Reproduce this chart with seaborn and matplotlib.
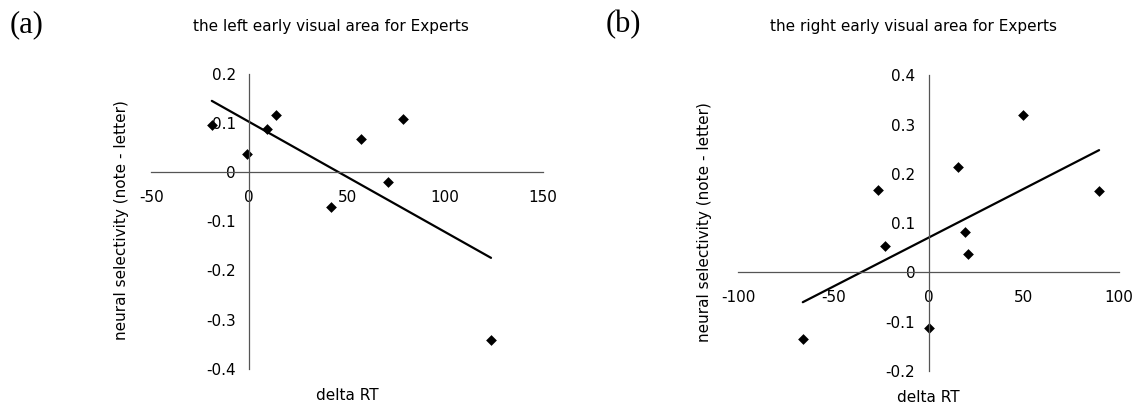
import numpy as np
import pandas as pd
import matplotlib
matplotlib.use("Agg")
import matplotlib.pyplot as plt
import seaborn as sns

# ---- data ----
left_delta_rt = [-19.1, -0.9, 9.3, 13.9, 41.8, 57.2, 70.8, 78.6, 123.5]
left_selectivity = [0.096, 0.037, 0.087, 0.115, -0.071, 0.067, -0.020, 0.108, -0.341]

right_delta_rt = [-66.0, -26.7, -23.1, 0.4, 15.5, 18.9, 20.8, 49.8, 89.5]
right_selectivity = [-0.135, 0.168, 0.053, -0.113, 0.213, 0.083, 0.038, 0.319, 0.166]

left_xticks = [-50, 0, 50, 100, 150]
left_xticklabels = ["-50", "0", "50", "100", "150"]
left_yticks = [-0.4, -0.3, -0.2, -0.1, 0.0, 0.1, 0.2]
left_yticklabels = ["-0.4", "-0.3", "-0.2", "-0.1", "0", "0.1", "0.2"]

right_xticks = [-100, -50, 0, 50, 100]
right_xticklabels = ["-100", "-50", "0", "50", "100"]
right_yticks = [-0.2, -0.1, 0.0, 0.1, 0.2, 0.3, 0.4]
right_yticklabels = ["-0.2", "-0.1", "0", "0.1", "0.2", "0.3", "0.4"]

titles = ["the left early visual area for Experts", "the right early visual area for Experts"]
panel_tags = ["(a)", "(b)"]
xlabel = "delta RT"
ylabel = "neural selectivity (note - letter)"

# ---- style ----
sns.set_style("white")
plt.rcParams["font.family"] = ["DejaVu Sans"]
plt.rcParams["text.color"] = "black"

W, H = 1141, 407
fig = plt.figure(figsize=(W / 100, H / 100), dpi=100)

def fx(px):
    return px / W

def fy(py):
    return 1 - py / H

panels = [
    dict(x=left_delta_rt, y=left_selectivity, xlim=(-50, 150), ylim=(-0.4, 0.2),
         xt=left_xticks, xtl=left_xticklabels, yt=left_yticks, ytl=left_yticklabels,
         box=(151.3, 73.7, 542.9, 368.7), title_x=331, tag_x=27, ylab_x=121.8, ylab_y=220,
         xlab_y=395),
    dict(x=right_delta_rt, y=right_selectivity, xlim=(-100, 100), ylim=(-0.2, 0.4),
         xt=right_xticks, xtl=right_xticklabels, yt=right_yticks, ytl=right_yticklabels,
         box=(738.0, 75.3, 1119.1, 371.0), title_x=913, tag_x=623, ylab_x=704.5, ylab_y=222,
         xlab_y=397.5),
]

axis_color = "#555555"
for i, p in enumerate(panels):
    l, t, r, b = p["box"]
    ax = fig.add_axes([fx(l), fy(b), (r - l) / W, (b - t) / H])
    df = pd.DataFrame({"x": p["x"], "y": p["y"]})
    sns.regplot(data=df, x="x", y="y", ax=ax, ci=None, truncate=True, marker="D",
                color="black", scatter_kws={"s": 30, "linewidths": 0, "alpha": 1},
                line_kws={"lw": 1.6, "color": "black"})
    ax.set_xlim(*p["xlim"])
    ax.set_ylim(*p["ylim"])
    ax.set_xlabel("")
    ax.set_ylabel("")
    ax.set_facecolor("none")
    for s in ["top", "right"]:
        ax.spines[s].set_visible(False)
    ax.spines["left"].set_position(("data", 0))
    ax.spines["bottom"].set_position(("data", 0))
    for s in ["left", "bottom"]:
        ax.spines[s].set_color(axis_color)
        ax.spines[s].set_linewidth(0.9)
    ax.set_xticks(p["xt"])
    ax.set_xticklabels(p["xtl"])
    ax.set_yticks(p["yt"])
    ax.set_yticklabels(p["ytl"])
    ax.tick_params(axis="x", direction="out", length=3, width=0.9, color=axis_color,
                   pad=10, labelsize=11, labelcolor="black")
    ax.tick_params(axis="y", direction="out", length=3, width=0.9, color=axis_color,
                   pad=6.5, labelsize=11, labelcolor="black")
    ax.grid(False)

    fig.text(fx(p["title_x"]), fy(27), titles[i], ha="center", va="center", fontsize=11)
    fig.text(fx(p["tag_x"]), fy(25), panel_tags[i], ha="center", va="center",
             fontsize=22, family=["Liberation Serif", "DejaVu Serif"])
    fig.text(fx((l + r) / 2), fy(p["xlab_y"]), xlabel, ha="center", va="center", fontsize=11)
    fig.text(fx(p["ylab_x"]), fy(p["ylab_y"]), ylabel, ha="center", va="center",
             rotation=90, fontsize=11)

fig.savefig("out.png", dpi=100, facecolor="white")
